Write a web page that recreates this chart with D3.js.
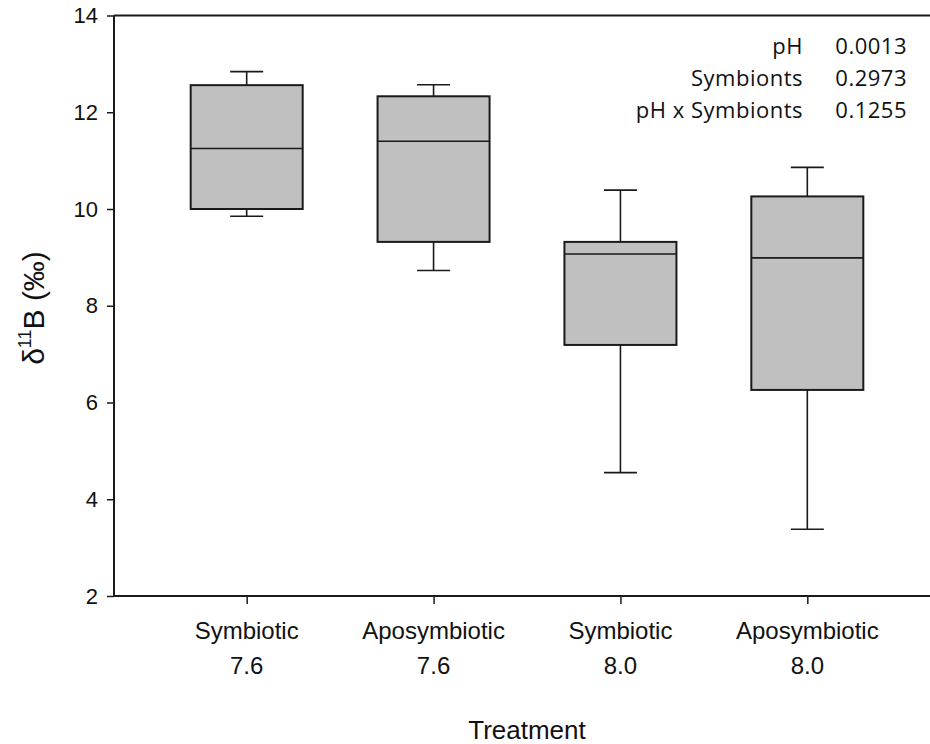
<!DOCTYPE html>
<html>
<head>
<meta charset="utf-8">
<script src="https://cdn.jsdelivr.net/npm/d3@7"></script>
<style>
  body { margin: 0; background: #fff; }
  svg { display: block; font-family: "Liberation Sans", Arial, sans-serif; }
</style>
</head>
<body>
<svg id="chart" width="930" height="744"></svg>
<script>
// treatment groups (symbiont status, pH)
const groups = ["Symbiotic", "Aposymbiotic", "Symbiotic", "Aposymbiotic"];
const phLevels = ["7.6", "7.6", "8.0", "8.0"];

// box stats (δ11B, ‰)
const whiskerLow = [9.85, 8.73, 4.55, 3.38];
const q1 = [10.0, 9.32, 7.19, 6.26];
const median = [11.25, 11.40, 9.07, 8.99];
const q3 = [12.56, 12.33, 9.32, 10.26];
const whiskerHigh = [12.84, 12.57, 10.39, 10.86];

const yTicks = [2, 4, 6, 8, 10, 12, 14];

// ANOVA p values
const effects = ["pH", "Symbionts", "pH x Symbionts"];
const pValues = ["0.0013", "0.2973", "0.1255"];

const svg = d3.select("#chart");
const plotLeft = 114, plotTop = 15.5, plotBottom = 596, plotRight = 930;

const keys = groups.map((g, i) => i);
const x = d3.scalePoint().domain(keys).range([plotLeft, 940]).padding(0.71);
const y = d3.scaleLinear().domain([2, 14]).range([plotBottom, plotTop]);

const boxW = 112;
const capW = 33;
const stroke = "#1a1a1a";

const data = keys.map((i) => ({
  i,
  lo: whiskerLow[i],
  q1: q1[i],
  med: median[i],
  q3: q3[i],
  hi: whiskerHigh[i],
}));

// whiskers
const wg = svg.append("g").attr("stroke", stroke).attr("stroke-width", 1.6);
data.forEach((d) => {
  const cx = x(d.i);
  wg.append("line").attr("x1", cx).attr("x2", cx).attr("y1", y(d.hi)).attr("y2", y(d.q3));
  wg.append("line").attr("x1", cx).attr("x2", cx).attr("y1", y(d.q1)).attr("y2", y(d.lo));
  wg.append("line").attr("x1", cx - capW / 2).attr("x2", cx + capW / 2).attr("y1", y(d.hi)).attr("y2", y(d.hi));
  wg.append("line").attr("x1", cx - capW / 2).attr("x2", cx + capW / 2).attr("y1", y(d.lo)).attr("y2", y(d.lo));
});

// boxes
svg.append("g")
  .selectAll("rect")
  .data(data)
  .enter()
  .append("rect")
  .attr("x", (d) => x(d.i) - boxW / 2)
  .attr("width", boxW)
  .attr("y", (d) => y(d.q3))
  .attr("height", (d) => y(d.q1) - y(d.q3))
  .attr("fill", "#c0c0c0")
  .attr("stroke", stroke)
  .attr("stroke-width", 2);

svg.append("g")
  .selectAll("line")
  .data(data)
  .enter()
  .append("line")
  .attr("x1", (d) => x(d.i) - boxW / 2)
  .attr("x2", (d) => x(d.i) + boxW / 2)
  .attr("y1", (d) => y(d.med))
  .attr("y2", (d) => y(d.med))
  .attr("stroke", stroke)
  .attr("stroke-width", 1.6);

// y axis
const yAxis = svg.append("g")
  .attr("transform", `translate(${plotLeft},0)`)
  .call(d3.axisLeft(y).tickValues(yTicks).tickSize(7).tickPadding(9).tickFormat(d3.format("d")));
yAxis.select(".domain").remove();
yAxis.selectAll(".tick line").attr("stroke", stroke).attr("stroke-width", 1.5);
yAxis.selectAll(".tick text")
  .attr("font-size", 22)
  .attr("fill", "#111")
  .attr("font-family", "Liberation Sans, Arial, sans-serif");

// x axis ticks
const xAxis = svg.append("g")
  .attr("transform", `translate(0,${plotBottom})`)
  .call(d3.axisBottom(x).tickSize(8).tickFormat(""));
xAxis.select(".domain").remove();
xAxis.selectAll(".tick line").attr("stroke", stroke).attr("stroke-width", 1.5);

// frame: left, bottom, top
svg.append("line").attr("x1", plotLeft).attr("x2", plotLeft).attr("y1", plotTop).attr("y2", plotBottom)
  .attr("stroke", stroke).attr("stroke-width", 2);
svg.append("line").attr("x1", plotLeft).attr("x2", plotRight).attr("y1", plotBottom).attr("y2", plotBottom)
  .attr("stroke", stroke).attr("stroke-width", 2);
svg.append("line").attr("x1", plotLeft).attr("x2", plotRight).attr("y1", plotTop).attr("y2", plotTop)
  .attr("stroke", stroke).attr("stroke-width", 2);

// category labels
const labels = svg.append("g").attr("font-size", 24).attr("fill", "#111").attr("text-anchor", "middle");
keys.forEach((i) => {
  labels.append("text").attr("x", x(i)).attr("y", 639).text(groups[i]);
  labels.append("text").attr("x", x(i)).attr("y", 674).text(phLevels[i]);
});

// axis titles
svg.append("text")
  .attr("x", 527)
  .attr("y", 739)
  .attr("text-anchor", "middle")
  .attr("font-size", 26)
  .attr("fill", "#111")
  .text("Treatment");

const yt = svg.append("text")
  .attr("transform", "translate(44,308) rotate(-90)")
  .attr("text-anchor", "middle")
  .attr("font-size", 30)
  .attr("fill", "#111");
yt.append("tspan").text("δ");
yt.append("tspan").attr("font-size", 18).attr("dy", -13).text("11");
yt.append("tspan").attr("dy", 13).text("B (‰)");

// p-value table
const ann = svg.append("g")
  .attr("font-family", "Open Sans, sans-serif")
  .attr("font-size", 22)
  .attr("letter-spacing", 0.5)
  .attr("fill", "#111");
effects.forEach((e, i) => {
  const by = 54 + i * 32;
  ann.append("text").attr("x", 803).attr("y", by).attr("text-anchor", "end").text(e);
  ann.append("text").attr("x", 907).attr("y", by).attr("text-anchor", "end").text(pValues[i]);
});
</script>
</body>
</html>
